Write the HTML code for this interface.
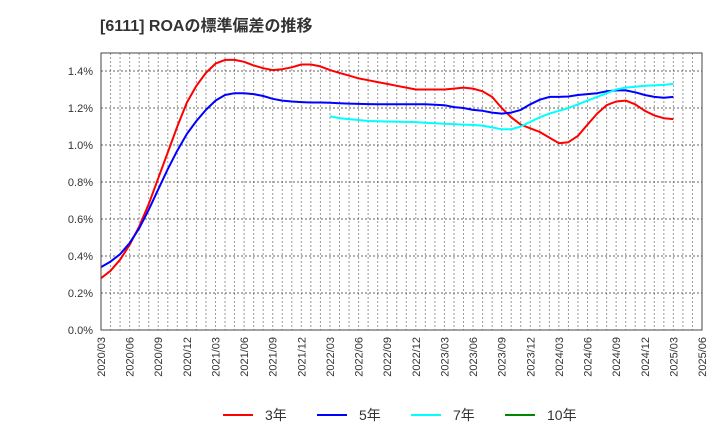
<!DOCTYPE html>
<html><head><meta charset="utf-8"><style>
body{margin:0;background:#fff;font-family:"Liberation Sans","Noto Sans CJK JP",sans-serif}
</style></head><body>
<svg id="c" width="720" height="440" viewBox="0 0 720 440" xmlns="http://www.w3.org/2000/svg">
<text x="100" y="31" font-size="16" font-weight="bold" fill="#333" font-family="Liberation Sans,Noto Sans CJK JP,sans-serif">[6111]  ROAの標準偏差の推移</text>
<g id="grid"></g>
<g id="yax"></g>
<g id="xax"></g>
<g id="series"></g>
<rect x="101" y="53" width="601" height="277" fill="none" stroke="#444" stroke-width="1"/>
<g font-size="14" fill="#333">
<g><line x1="223" y1="415" x2="253" y2="415" stroke="#f00" stroke-width="2"/><text x="265" y="420">3年</text></g>
<g><line x1="317" y1="415" x2="347" y2="415" stroke="#00f" stroke-width="2"/><text x="359" y="420">5年</text></g>
<g><line x1="411" y1="415" x2="441" y2="415" stroke="#0ff" stroke-width="2"/><text x="453" y="420">7年</text></g>
<g><line x1="505" y1="415" x2="535" y2="415" stroke="#080" stroke-width="2"/><text x="547" y="420">10年</text></g>
</g>
</svg>
<script>
const xTickLabels=["2020/03","2020/06","2020/09","2020/12","2021/03","2021/06","2021/09","2021/12","2022/03","2022/06","2022/09","2022/12","2023/03","2023/06","2023/09","2023/12","2024/03","2024/06","2024/09","2024/12","2025/03","2025/06"];
const yTicks=[0,0.2,0.4,0.6,0.8,1.0,1.2,1.4];
const s3=[0.28,0.32,0.38,0.46,0.56,0.68,0.82,0.96,1.10,1.23,1.32,1.39,1.44,1.46,1.46,1.45,1.43,1.415,1.405,1.41,1.42,1.435,1.435,1.425,1.405,1.39,1.375,1.36,1.35,1.34,1.33,1.32,1.31,1.30,1.30,1.30,1.30,1.305,1.31,1.305,1.29,1.26,1.20,1.15,1.11,1.09,1.07,1.04,1.01,1.015,1.05,1.11,1.17,1.215,1.235,1.24,1.22,1.185,1.16,1.145,1.14];
const s5=[0.34,0.37,0.41,0.47,0.55,0.65,0.76,0.87,0.97,1.06,1.13,1.19,1.24,1.27,1.28,1.28,1.275,1.265,1.25,1.24,1.235,1.232,1.23,1.23,1.228,1.226,1.224,1.222,1.221,1.22,1.22,1.22,1.22,1.22,1.22,1.218,1.215,1.205,1.20,1.19,1.185,1.175,1.17,1.175,1.19,1.22,1.245,1.26,1.26,1.262,1.27,1.275,1.28,1.29,1.295,1.295,1.285,1.27,1.26,1.255,1.26];
const s7Start=24;
const s7=[1.155,1.145,1.14,1.135,1.13,1.128,1.127,1.126,1.125,1.124,1.12,1.118,1.115,1.113,1.11,1.108,1.105,1.095,1.085,1.085,1.10,1.125,1.15,1.17,1.185,1.20,1.22,1.24,1.26,1.28,1.30,1.31,1.315,1.32,1.322,1.325,1.33];
const s10=[];
const L=101,R=702,T=53,B=330,NM=63;
const X=m=>L+m*(R-L)/NM;
const ns="http://www.w3.org/2000/svg";
function mk(t,a,p){const e=document.createElementNS(ns,t);for(const k in a)e.setAttribute(k,a[k]);p.appendChild(e);return e;}
const g=document.getElementById('grid'),ya=document.getElementById('yax'),xa=document.getElementById('xax'),se=document.getElementById('series');
function yp(v){return B-v*(37/0.2);}
for(let m=1;m<NM;m++){const l=mk('line',{x1:X(m),x2:X(m),y1:T,y2:B,stroke:'#999','stroke-dasharray':'2,2','stroke-width':1},g);

}
yTicks.forEach(v=>{if(v>0){const l=mk('line',{x1:L,x2:R,y1:yp(v),y2:yp(v),stroke:'#666','stroke-dasharray':'2,2','stroke-width':1},g);

}
const t=mk('text',{x:93,y:yp(v)+4,'text-anchor':'end','font-size':11,fill:'#333'},ya);t.textContent=v.toFixed(1)+'%';

});
xTickLabels.forEach((s,i)=>{const x=X(i*3);const t=mk('text',{x:0,y:0,transform:`translate(${x+4},337) rotate(-90)`,'text-anchor':'end','font-size':11,fill:'#333'},xa);t.textContent=s;

});
function line(arr,start,col,name){if(!arr.length)return;const d=arr.map((v,i)=>(i?'L':'M')+X(start+i).toFixed(1)+','+yp(v).toFixed(1)).join('');
const p=mk('path',{d,fill:'none',stroke:col,'stroke-width':2,'stroke-linejoin':'round'},se);

}
line(s3,0,'#f00','series-3y');line(s5,0,'#00f','series-5y');line(s7,s7Start,'#0ff','series-7y');line(s10,0,'#080','series-10y');
</script>
</body></html>
